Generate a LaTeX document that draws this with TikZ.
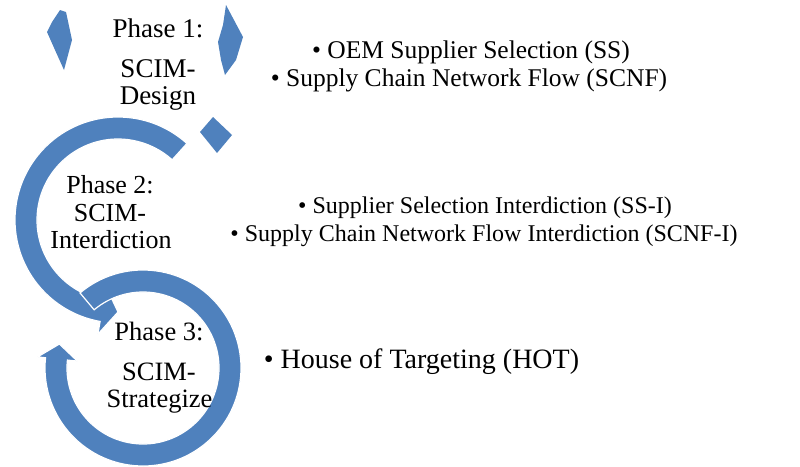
\documentclass[tikz,border=0pt]{standalone}
\usepackage{fontspec}
\setmainfont{Liberation Serif}
\definecolor{arrowblue}{RGB}{79,129,189}
\begin{document}
\begin{tikzpicture}[x=1pt,y=1pt,
  arrowshape/.style={fill=arrowblue,draw=white,line width=1.2pt,line join=miter},
  shard/.style={fill=arrowblue,draw=none},
  lbl/.style={anchor=base,inner sep=0pt,font=\fontsize{25.5}{27}\selectfont},
  lblA/.style={lbl,font=\fontsize{27}{29}\selectfont},
  lblB/.style={lbl,font=\fontsize{26}{28}\selectfont},
  lblC/.style={lbl,font=\fontsize{26.5}{28}\selectfont},
  bulA/.style={lbl,font=\fontsize{25.5}{27}\selectfont},
  bulB/.style={lbl,font=\fontsize{24}{26}\selectfont},
  bulC/.style={lbl,font=\fontsize{28}{30}\selectfont}]
\useasboundingbox (0,0) rectangle (800,-466);
% Phase 1 fragments
\fill[shard] (60,-10) -- (66,-12) -- (72,-40) -- (64,-70) -- (55,-50) -- (47,-32) -- (52,-22) -- cycle;
\fill[shard] (226,-5) -- (243,-37) -- (236,-60) -- (225,-75) -- (221,-60) -- (218,-42) -- (223,-25) -- cycle;
\fill[shard] (200,-132) -- (213,-117) -- (232,-135) -- (217,-153) -- cycle;
% Phase 2 circular arrow
\begin{scope}[shift={(118,-220)}]
\path[arrowshape] (48:103) arc[start angle=48,end angle=260,radius=103]
  -- (260:116) -- (270:92) -- (260:68) -- (260:81)
  arc[start angle=260,end angle=48,radius=81] -- cycle;
\end{scope}
% Phase 3 circular arrow
\begin{scope}[shift={(143,-368)}]
\path[arrowshape] (130:98) arc[start angle=130,end angle=-186,radius=98]
  -- (-186:106) -- (-196:87) -- (-186:66) -- (-186:76)
  arc[start angle=-186,end angle=130,radius=76] -- cycle;
\end{scope}
% Phase labels
\node[lblA] (p1a) at (158,-37) {Phase 1:};
\node[lblA] (p1b) at (158,-77) {SCIM-};
\node[lblA] (p1c) at (158,-104) {Design};
\node[lblB] (p2a) at (110,-193) {Phase 2:};
\node[lblB] (p2b) at (110,-221) {SCIM-};
\node[lblB] (p2c) at (111,-248) {Interdiction};
\node[lblC] (p3a) at (159,-340) {Phase 3:};
\node[lblC] (p3b) at (159,-380) {SCIM-};
\node[lblC] (p3c) at (159.5,-407) {Strategize};
% Bullet texts
\node[bulA] (b1a) at (471,-58) {• OEM Supplier Selection (SS)};
\node[bulA] (b1b) at (469,-86) {• Supply Chain Network Flow (SCNF)};
\node[bulB] (b2a) at (485,-213) {• Supplier Selection Interdiction (SS-I)};
\node[bulB] (b2b) at (484,-241) {• Supply Chain Network Flow Interdiction (SCNF-I)};
\node[bulC] (b3a) at (421.5,-368) {• House of Targeting (HOT)};
\end{tikzpicture}
\end{document}
